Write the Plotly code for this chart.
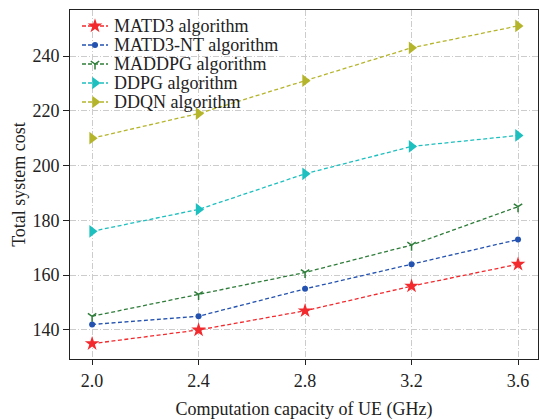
import plotly.graph_objects as go

capacity = [2.0, 2.4, 2.8, 3.2, 3.6]
x_ticks = ["2.0", "2.4", "2.8", "3.2", "3.6"]
y_ticks = [140, 160, 180, 200, 220, 240]

matd3 = [135, 140, 147, 156, 164]
matd3_nt = [142, 145, 155, 164, 173]
maddpg = [145, 153, 161, 171, 185]
ddpg = [176, 184, 197, 207, 211]
ddqn = [210, 219, 231, 243, 251]

series = [
    ("MATD3 algorithm", matd3, "#f22a2e", "star", 11),
    ("MATD3-NT algorithm", matd3_nt, "#2452b0", "circle", 6),
    ("MADDPG algorithm", maddpg, "#2f7d3a", "y-down-open", 7),
    ("DDPG algorithm", ddpg, "#1dbfbf", "triangle-right", 11),
    ("DDQN algorithm", ddqn, "#b5b52c", "triangle-right", 11),
]

FONT = "Liberation Serif, Times New Roman, serif"
DASH = "4px,2.5px"


def marker_style(color, sym, size):
    return dict(symbol=sym, size=size, color=color,
                line=dict(color=color, width=1.5 if "open" in sym else 0))


fig = go.Figure()
for name, vals, color, sym, size in series:
    fig.add_trace(go.Scatter(
        x=capacity, y=vals, name=name, mode="lines+markers", showlegend=False,
        line=dict(color=color, width=1.3, dash=DASH),
        marker=marker_style(color, sym, size),
    ))

# Legend drawn in an overlay axis that uses pixel-like units (x: 70..538, y: 10..359 top-down)
leg_x0, leg_x1, leg_text_x = 82, 108, 112
leg_row0, leg_step = 26, 19
for i, (name, vals, color, sym, size) in enumerate(series):
    row_y = leg_row0 + i * leg_step
    fig.add_trace(go.Scatter(
        x=[leg_x0, (leg_x0 + leg_x1) / 2, leg_x1], y=[row_y] * 3,
        xaxis="x2", yaxis="y2", mode="lines", showlegend=False, hoverinfo="skip",
        line=dict(color=color, width=1.3, dash="4px,2px"),
    ))
    fig.add_trace(go.Scatter(
        x=[(leg_x0 + leg_x1) / 2], y=[row_y],
        xaxis="x2", yaxis="y2", mode="markers", showlegend=False, hoverinfo="skip",
        marker=marker_style(color, sym, size),
    ))
    fig.add_annotation(x=leg_text_x, y=row_y, xref="x2", yref="y2", text=name,
                       showarrow=False, xanchor="left", yanchor="middle",
                       font=dict(family=FONT, size=18, color="#222"))

axis_common = dict(
    showline=True, linecolor="#222", linewidth=1, mirror=True,
    ticks="outside", tickcolor="#222",
    showgrid=True, gridcolor="#cccccc", griddash="6px,2px,1px,2px", gridwidth=1,
    zeroline=False, tickfont=dict(size=18),
)

fig.update_layout(
    width=539, height=420,
    margin=dict(l=70, r=1, t=10, b=61),
    plot_bgcolor="white", paper_bgcolor="white",
    font=dict(family=FONT, size=18, color="#222"),
    showlegend=False,
    xaxis=dict(range=[1.917, 3.675], tickvals=capacity, ticktext=x_ticks,
               title=dict(text="Computation capacity of UE (GHz)", standoff=16,
                          font=dict(size=18)),
               ticklen=5, **axis_common),
    yaxis=dict(range=[129.4, 256.8], tickvals=y_ticks,
               title=dict(text="Total system cost", standoff=2, font=dict(size=18)),
               ticklen=6, **axis_common),
    xaxis2=dict(overlaying="x", range=[70, 538], visible=False, fixedrange=True),
    yaxis2=dict(overlaying="y", range=[359, 10], visible=False, fixedrange=True),
)

fig.write_html("out.html")
